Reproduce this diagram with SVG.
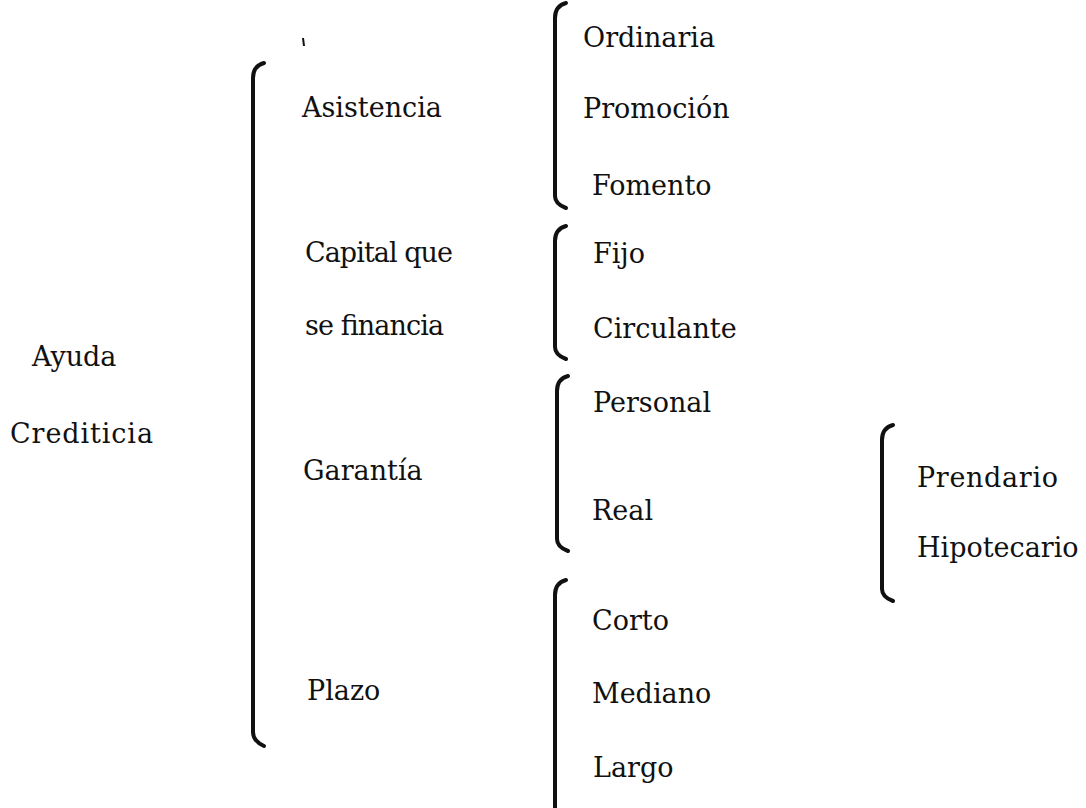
<svg xmlns="http://www.w3.org/2000/svg" width="1086" height="808" viewBox="0 0 1086 808">
<style>
.t{font-family:"DejaVu Serif","Liberation Serif",serif;font-size:27px;fill:#111}
.b{fill:none;stroke:#111;stroke-width:4;stroke-linecap:round;stroke-linejoin:round}
</style>
<rect width="1086" height="808" fill="#fff"/>
<g id="connectors">
<path class="b" d="M264,63 Q253,66 253,78 L253,732 Q253,741 264,746"/>
<path class="b" d="M566,3 Q555,6 555,18 L555,196 Q555,204 566,208"/>
<path class="b" d="M566,226 Q555,229 555,241 L555,347 Q555,355 566,359"/>
<path class="b" d="M568,376 Q557,379 557,391 L557,539 Q557,547 568,551"/>
<path class="b" d="M566,580 Q555,583 555,595 L555,808"/>
<path class="b" d="M893,425 Q882,428 882,440 L882,589 Q882,597 893,601"/>
<path d="M303,38 L304,46" stroke="#111" stroke-width="2" fill="none"/>
</g>
<g id="n-root"><text class="t" x="32" y="366">Ayuda</text><text class="t" x="10" y="443" textLength="143" lengthAdjust="spacing">Crediticia</text></g>
<g id="n-asistencia"><text class="t" x="302" y="117">Asistencia</text></g>
<g id="n-capital"><text class="t" x="305" y="262" textLength="148" lengthAdjust="spacing">Capital que</text><text class="t" x="305" y="335" textLength="139" lengthAdjust="spacing">se financia</text></g>
<g id="n-garantia"><text class="t" x="303" y="480">Garantía</text></g>
<g id="n-plazo"><text class="t" x="307" y="700">Plazo</text></g>
<g id="n-ordinaria"><text class="t" x="583" y="47">Ordinaria</text></g>
<g id="n-promocion"><text class="t" x="583" y="118">Promoción</text></g>
<g id="n-fomento"><text class="t" x="592" y="195">Fomento</text></g>
<g id="n-fijo"><text class="t" x="593" y="263">Fijo</text></g>
<g id="n-circulante"><text class="t" x="593" y="338">Circulante</text></g>
<g id="n-personal"><text class="t" x="593" y="412">Personal</text></g>
<g id="n-real"><text class="t" x="592" y="520">Real</text></g>
<g id="n-corto"><text class="t" x="592" y="630">Corto</text></g>
<g id="n-mediano"><text class="t" x="592" y="703">Mediano</text></g>
<g id="n-largo"><text class="t" x="593" y="777">Largo</text></g>
<g id="n-prendario"><text class="t" x="917" y="487" textLength="141" lengthAdjust="spacing">Prendario</text></g>
<g id="n-hipotecario"><text class="t" x="917" y="557">Hipotecario</text></g>
</svg>
